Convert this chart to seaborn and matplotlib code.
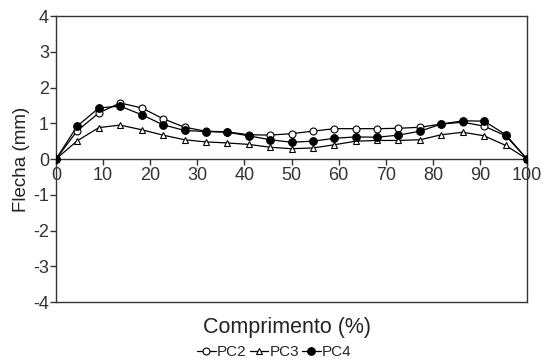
import numpy as np
import pandas as pd
import seaborn as sns
import matplotlib.pyplot as plt

# comprimento (%) - 23 evenly spaced stations
comprimento = [0, 4.5, 9.1, 13.6, 18.2, 22.7, 27.3, 31.8, 36.4, 40.9, 45.5, 50.0,
               54.5, 59.1, 63.6, 68.2, 72.7, 77.3, 81.8, 86.4, 90.9, 95.5, 100]

pc2 = [0, 0.79, 1.29, 1.57, 1.43, 1.13, 0.89, 0.78, 0.76, 0.68, 0.67, 0.71,
       0.78, 0.85, 0.85, 0.85, 0.86, 0.89, 0.98, 1.03, 0.92, 0.65, 0]
pc3 = [0, 0.51, 0.88, 0.95, 0.82, 0.67, 0.54, 0.48, 0.45, 0.41, 0.33, 0.29,
       0.31, 0.40, 0.50, 0.52, 0.52, 0.54, 0.68, 0.75, 0.65, 0.38, 0]
pc4 = [0, 0.92, 1.43, 1.48, 1.24, 0.96, 0.80, 0.77, 0.75, 0.65, 0.54, 0.47,
       0.50, 0.58, 0.62, 0.61, 0.67, 0.78, 0.98, 1.07, 1.06, 0.68, 0]

x_ticks = [0, 10, 20, 30, 40, 50, 60, 70, 80, 90, 100]
y_ticks = [-4, -3, -2, -1, 0, 1, 2, 3, 4]

sns.set_style("white")
plt.rcParams['font.family'] = ['Liberation Sans', 'DejaVu Sans']

df = pd.DataFrame({'Comprimento': comprimento, 'PC2': pc2, 'PC3': pc3, 'PC4': pc4})

fig = plt.figure(figsize=(5.49, 3.64), dpi=100)
ax = fig.add_axes([0.102, 0.170, 0.858, 0.786])

line_kw = dict(color='black', linewidth=0.9, markeredgecolor='black', markeredgewidth=0.8)
sns.lineplot(data=df, x='Comprimento', y='PC2', ax=ax, label='PC2', marker='o',
             markersize=5, markerfacecolor='white', zorder=3, **line_kw)
sns.lineplot(data=df, x='Comprimento', y='PC3', ax=ax, label='PC3', marker='^',
             markersize=5, markerfacecolor='white', zorder=2, **line_kw)
sns.lineplot(data=df, x='Comprimento', y='PC4', ax=ax, label='PC4', marker='o',
             markersize=5.5, markerfacecolor='black', zorder=4, **line_kw)

ax.set_xlim(0, 100)
ax.set_ylim(-4, 4)
ax.set_xticks(x_ticks)
ax.set_yticks(y_ticks)
ax.set_yticklabels([str(v) for v in y_ticks])

# x axis crosses at y = 0, box kept around plot area
ax.spines['bottom'].set_position(('data', 0))
for s in ax.spines.values():
    s.set_color('#333333')
    s.set_linewidth(1.0)
ax.plot([0, 100], [-4, -4], color='#333333', linewidth=1.0, clip_on=False)

ax.tick_params(axis='x', direction='out', length=4, width=1, colors='#333333',
               labelsize=13, labelcolor='#333333', pad=2)
ax.tick_params(axis='y', direction='out', length=4, width=1, colors='#333333',
               labelsize=13, labelcolor='#333333', pad=1)
ax.tick_params(left=True, bottom=True)

ax.set_xlabel('')
ax.set_ylabel('Flecha (mm)', fontsize=13.5, color='#222222', labelpad=2)
fig.text(0.522, 0.10, 'Comprimento (%)', ha='center', va='center', fontsize=15.5, color='#222222')

ax.get_legend().remove()
handles, labels = ax.get_legend_handles_labels()
fig.legend(handles, labels, loc='center', bbox_to_anchor=(0.50, 0.033), ncol=3,
           frameon=False, fontsize=11, handlelength=1.2, handletextpad=0.1,
           columnspacing=0.2, borderpad=0)

fig.savefig('out.png', dpi=100)
